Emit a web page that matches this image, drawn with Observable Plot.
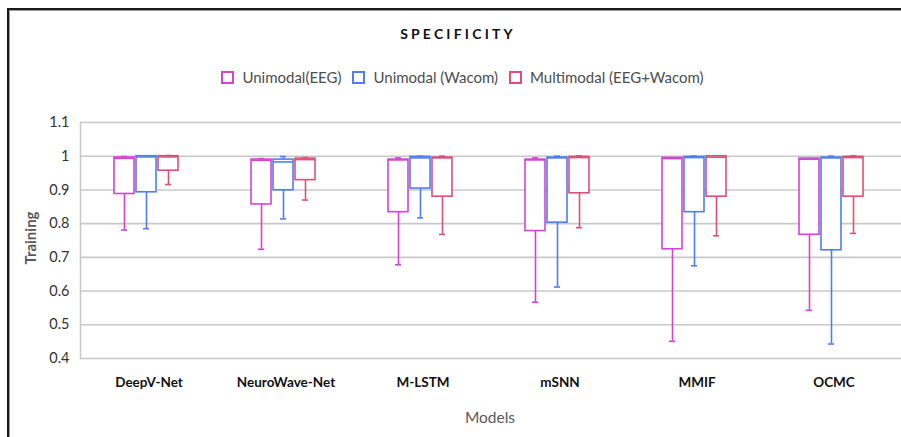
<!DOCTYPE html>
<html>
<head>
<meta charset="utf-8">
<script src="https://cdn.jsdelivr.net/npm/d3@7"></script>
<script src="https://cdn.jsdelivr.net/npm/@observablehq/plot@0.6"></script>
<style>
  html, body { margin: 0; padding: 0; background: #fff; }
  #wrap { position: relative; width: 901px; height: 437px; overflow: hidden; font-family: Lato, "Open Sans", sans-serif; background: #fff; }
  #border { position: absolute; left: 7px; top: 8px; right: -5px; bottom: -5px; border-top: 2px solid #1a1a1a; border-left: 2px solid #1a1a1a; box-shadow: inset 1px 1px 0 #9a9a9a; }
  #chart { position: absolute; left: 0; top: 0; }
  #title { position: absolute; left: 0; width: 916px; top: 25px; text-align: center; font-weight: bold; font-size: 14px; letter-spacing: 3.2px; color: #111; }
  #legend { position: absolute; left: 0; width: 925px; top: 68px; display: flex; justify-content: center; gap: 11px; font-size: 15px; color: #4d4d4d; }
  .item { display: flex; align-items: center; gap: 8px; }
  .sw { box-sizing: border-box; width: 13px; height: 13px; background: #fff; }
  #ylab { position: absolute; left: 30px; top: 238px; transform: translate(-50%, -50%) rotate(-90deg); font-weight: bold; font-size: 15px; color: #595959; white-space: nowrap; }
  #xlab { position: absolute; left: 0; width: 980px; top: 408px; text-align: center; font-size: 15.5px; color: #595959; }
</style>
</head>
<body>
<div id="wrap">
  <div id="border"></div>
  <div id="chart"></div>
  <div id="title">SPECIFICITY</div>
  <div id="legend"></div>
  <div id="ylab">Training</div>
  <div id="xlab">Models</div>
</div>
<script>
const models = ["DeepV-Net", "NeuroWave-Net", "M-LSTM", "mSNN", "MMIF", "OCMC"];
const series = ["Unimodal(EEG)", "Unimodal (Wacom)", "Multimodal (EEG+Wacom)"];
const colors = ["#d444d4", "#4f7ef0", "#dc5077"];
const yTicks = [0.4, 0.5, 0.6, 0.7, 0.8, 0.9, 1, 1.1];

// Unimodal(EEG)
const eegMin    = [0.781, 0.724, 0.678, 0.567, 0.451, 0.543];
const eegQ1     = [0.888, 0.857, 0.834, 0.778, 0.724, 0.767];
const eegMedian = [0.994, 0.988, 0.989, 0.989, 0.993, 0.991];
const eegQ3     = [0.996, 0.990, 0.990, 0.990, 0.995, 0.993];
const eegMax    = [0.999, 0.993, 0.995, 0.995, 0.995, 0.993];
// Unimodal (Wacom)
const wacMin    = [0.785, 0.814, 0.817, 0.612, 0.675, 0.443];
const wacQ1     = [0.893, 0.899, 0.904, 0.803, 0.834, 0.721];
const wacMedian = [0.998, 0.983, 0.995, 0.995, 0.996, 0.995];
const wacQ3     = [1.000, 0.990, 0.998, 0.996, 0.998, 0.996];
const wacMax    = [1.000, 0.999, 1.000, 1.000, 1.000, 1.000];
// Multimodal (EEG+Wacom)
const mulMin    = [0.916, 0.870, 0.768, 0.788, 0.764, 0.771];
const mulQ1     = [0.957, 0.929, 0.880, 0.890, 0.880, 0.880];
const mulMedian = [0.998, 0.990, 0.995, 0.996, 0.997, 0.996];
const mulQ3     = [1.000, 0.993, 0.996, 0.998, 1.000, 0.998];
const mulMax    = [1.002, 0.996, 1.000, 1.001, 1.001, 1.001];

const stats = [
  [eegMin, eegQ1, eegMedian, eegQ3, eegMax],
  [wacMin, wacQ1, wacMedian, wacQ3, wacMax],
  [mulMin, mulQ1, mulMedian, mulQ3, mulMax]
];
const rows = [];
models.forEach((m, i) => {
  series.forEach((s, j) => {
    const [mn, q1, md, q3, mx] = stats[j];
    rows.push({model: m, series: s, min: mn[i], q1: q1[i], median: md[i], q3: q3[i], max: mx[i]});
  });
});

const sw = 1.6;
const chart = Plot.plot({
  width: 901,
  height: 437,
  marginTop: 122,
  marginBottom: 79,
  marginLeft: 80,
  marginRight: -1,
  style: {fontFamily: "Lato, 'Open Sans', sans-serif", background: "transparent", overflow: "hidden"},
  fx: {domain: models, padding: 0, label: null},
  x: {domain: series, paddingInner: 0.09, paddingOuter: 1.65, align: 0.47, axis: null},
  y: {domain: [0.4, 1.1], label: null},
  color: {domain: series, range: colors},
  marks: [
    Plot.ruleY(yTicks, {stroke: "#c8c8c8", strokeWidth: 1.6}),
    Plot.frame({anchor: "left", facet: "super", stroke: "#c8c8c8", strokeWidth: 1.6}),
    Plot.axisY({ticks: yTicks, tickSize: 0, tickPadding: 11, fontSize: 14.5, fill: "#333",
                tickFormat: d => String(+d.toFixed(1)), label: null}),
    Plot.axisFx({anchor: "bottom", tickSize: 0, tickPadding: 19, fontSize: 13.5, fontWeight: "bold", fill: "#111", label: null}),
    Plot.ruleX(rows, {fx: "model", x: "series", y1: "min", y2: "q1", stroke: "series", strokeWidth: sw}),
    Plot.ruleX(rows, {fx: "model", x: "series", y1: "q3", y2: "max", stroke: "series", strokeWidth: sw}),
    Plot.tickY(rows, {fx: "model", x: "series", y: "min", stroke: "series", strokeWidth: sw, insetLeft: 7, insetRight: 7}),
    Plot.tickY(rows, {fx: "model", x: "series", y: "max", stroke: "series", strokeWidth: sw, insetLeft: 7, insetRight: 7}),
    Plot.barY(rows, {fx: "model", x: "series", y1: "q1", y2: "q3", fill: "white", stroke: "series", strokeWidth: sw}),
    Plot.tickY(rows, {fx: "model", x: "series", y: "median", stroke: "series", strokeWidth: sw})
  ]
});
document.getElementById("chart").appendChild(chart);

const legend = document.getElementById("legend");
series.forEach((s, j) => {
  const it = document.createElement("div");
  it.className = "item";
  const b = document.createElement("div");
  b.className = "sw";
  b.style.border = "2px solid " + colors[j];
  const t = document.createElement("span");
  t.textContent = s;
  it.appendChild(b); it.appendChild(t);
  legend.appendChild(it);
});
</script>
</body>
</html>
